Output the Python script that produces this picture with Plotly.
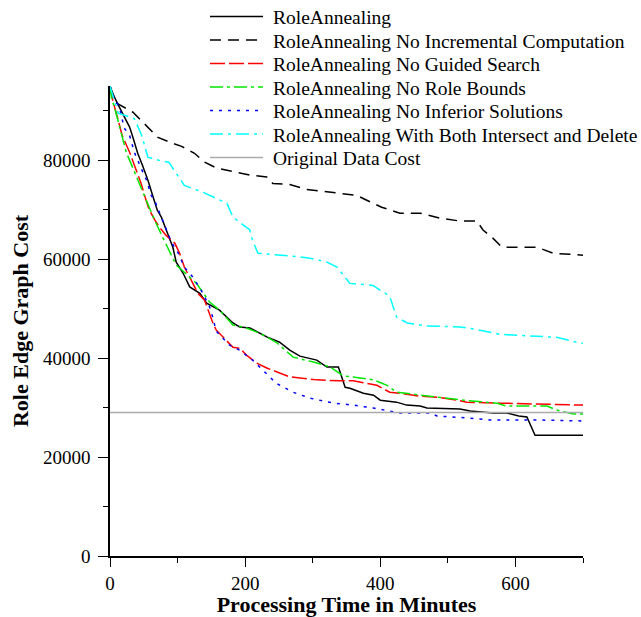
import plotly.graph_objects as go

# ---------------- data ----------------
ra_t = [0, 2, 11, 21, 29, 34, 41, 48, 56, 63, 70, 76, 88, 93, 98, 108, 118, 133, 143, 162, 182, 192, 207,
        232, 251, 266, 281, 306, 321, 338, 348, 355, 375, 390, 400, 424, 439, 459, 469, 518, 533, 567,
        587, 605, 617, 629, 700]
ra_v = [95000, 94100, 91500, 88700, 86700, 84600, 81400, 79000, 76000, 72900, 69900, 68500, 64400, 62400,
        59400, 57200, 54400, 53100, 51100, 49700, 47100, 46300, 46100, 44300, 43200, 41600, 40400, 39600,
        38200, 38200, 34100, 33900, 32900, 32500, 31500, 31100, 30500, 30300, 29900, 29700, 29300, 28900,
        28900, 28300, 28100, 24400, 24400]

noinc_t = [0, 9, 34, 41, 71, 93, 106, 125, 140, 158, 207, 232, 241, 266, 291, 340, 365, 380, 402, 429,
           459, 488, 518, 543, 552, 567, 580, 632, 656, 700]
noinc_v = [95000, 91600, 89700, 88700, 84600, 83400, 82800, 81400, 79600, 78400, 77000, 76600, 75300,
           75100, 74100, 73300, 72900, 71900, 70500, 69300, 69300, 68300, 67700, 67700, 65900, 64200,
           62400, 62400, 61200, 60800]

noguide_t = [0, 4, 11, 18, 29, 36, 46, 52, 58, 66, 73, 83, 96, 103, 110, 120, 130, 140, 145, 152, 157,
             172, 182, 192, 202, 217, 232, 251, 266, 281, 306, 340, 360, 375, 395, 414, 429, 459, 484,
             513, 528, 577, 627, 691, 700]
noguide_v = [95000, 92100, 88700, 85000, 81600, 79000, 75300, 72500, 70000, 68000, 66500, 64800, 63200,
             61200, 58400, 55800, 53100, 51700, 49700, 47200, 45700, 43600, 42200, 42000, 40600, 39000,
             38000, 37000, 36200, 36000, 35600, 35400, 35400, 35000, 34500, 33100, 32900, 32300, 32100,
             31500, 31100, 30900, 30700, 30500, 30500]

nobound_t = [0, 2, 9, 17, 24, 32, 41, 51, 66, 78, 88, 98, 108, 128, 147, 162, 182, 202, 222, 246, 271,
             301, 326, 345, 370, 390, 410, 424, 449, 488, 523, 572, 587, 647, 661, 686, 700]
nobound_v = [95000, 92700, 89500, 85400, 81600, 79000, 76000, 72900, 67900, 64400, 61500, 58800, 57600,
             55100, 51400, 49700, 46700, 46100, 45000, 43200, 40200, 39200, 38200, 36400, 36000, 35600,
             34500, 33100, 32700, 32100, 31500, 30900, 30300, 30300, 29500, 28700, 28700]

noinf_t = [0, 6, 14, 21, 29, 36, 46, 54, 61, 66, 73, 83, 91, 101, 110, 123, 135, 147, 152, 157, 177,
           192, 211, 226, 246, 271, 296, 331, 360, 390, 419, 429, 474, 484, 528, 562, 627, 700]
noinf_v = [95000, 92500, 90700, 86500, 85000, 81600, 78400, 76000, 72900, 71900, 69500, 65900, 63400,
           61200, 58400, 56300, 53700, 50500, 48300, 45500, 42600, 41600, 39600, 37600, 34900, 33100,
           31900, 30900, 30500, 29900, 29100, 28900, 28900, 28300, 27900, 27500, 27500, 27300]

both_t = [0, 12, 36, 47, 56, 72, 87, 110, 138, 162, 173, 182, 207, 211, 219, 271, 296, 321, 336, 355,
          389, 414, 424, 440, 469, 518, 538, 577, 627, 661, 691, 700]
both_v = [95000, 89500, 88400, 85000, 80600, 80000, 79600, 74900, 73500, 71900, 71300, 68500, 65900,
          63800, 61200, 60600, 60200, 59400, 58400, 55100, 54700, 52500, 48300, 47100, 46500, 46300,
          45900, 44800, 44400, 44200, 43200, 43000]

orig_t = [0, 700]
orig_v = [29000, 29000]

names = [
    "RoleAnnealing",
    "RoleAnnealing No Incremental Computation",
    "RoleAnnealing No Guided Search",
    "RoleAnnealing No Role Bounds",
    "RoleAnnealing No Inferior Solutions",
    "RoleAnnealing With Both Intersect and Delete",
    "Original Data Cost",
]

x_ticks = [0, 200, 400, 600]
y_ticks = [0, 20000, 40000, 60000, 80000]

# ---------------- figure ----------------
FONT = "Liberation Serif, Times New Roman, serif"
W, H = 641, 617
ML, MR, MT, MB = 110, 58, 86, 61
PW, PH = W - ML - MR, H - MT - MB

series = [
    (ra_t, ra_v, "black", "solid"),
    (noinc_t, noinc_v, "black", "11px,7px"),
    (noguide_t, noguide_v, "#ff0000", "15px,4px"),
    (nobound_t, nobound_v, "#00e600", "13px,4px,3px,4px"),
    (noinf_t, noinf_v, "#0000ff", "3px,6px"),
    (both_t, both_v, "#00ffff", "13px,5px,3px,5px"),
    (orig_t, orig_v, "#aaaaaa", "solid"),
]

fig = go.Figure()
for (t, v, col, dash), nm in zip(series, names):
    fig.add_trace(go.Scatter(x=t, y=v, mode="lines", name=nm, showlegend=False,
                             line=dict(color=col, width=1.5, dash=dash)))

# legend drawn in paper space (sample line + label text), positions in page px
def px2paper_x(px):
    return (px - ML) / PW

def px2paper_y(py):
    return (H - MB - py) / PH

shapes, annots = [], []
for i, ((t, v, col, dash), nm) in enumerate(zip(series, names)):
    yc = 16.5 + i * 23.5
    shapes.append(dict(type="line", xref="paper", yref="paper",
                       x0=px2paper_x(210), x1=px2paper_x(263),
                       y0=px2paper_y(yc), y1=px2paper_y(yc),
                       line=dict(color=col, width=1.5, dash=dash)))
    annots.append(dict(text=nm, xref="paper", yref="paper",
                       x=px2paper_x(271), y=px2paper_y(yc + 1),
                       xanchor="left", yanchor="middle", showarrow=False,
                       font=dict(family=FONT, size=19.5, color="black")))

fig.update_layout(
    width=W, height=H,
    margin=dict(l=ML, r=MR, t=MT, b=MB, autoexpand=False),
    paper_bgcolor="white", plot_bgcolor="white",
    font=dict(family=FONT, size=19, color="black"),
    showlegend=False,
    shapes=shapes, annotations=annots,
    xaxis=dict(range=[0, 700], showgrid=False, zeroline=False, automargin=False,
               showline=True, linecolor="black", linewidth=1.5,
               ticks="outside", ticklen=9, tickwidth=1.2, tickcolor="black",
               tickvals=x_ticks, ticktext=[str(v) for v in x_ticks],
               tickfont=dict(family=FONT, size=19),
               minor=dict(tickvals=[100, 300, 500, 700], ticks="outside", ticklen=5,
                          tickwidth=1.2, tickcolor="black"),
               title=dict(text="<b>Processing Time in Minutes</b>", standoff=3,
                          font=dict(family=FONT, size=22))),
    yaxis=dict(range=[0, 95000], showgrid=False, zeroline=False, automargin=False,
               showline=True, linecolor="black", linewidth=1.5,
               ticks="outside", ticklen=10, tickwidth=1.2, tickcolor="black",
               ticklabelstandoff=4,
               tickvals=y_ticks, ticktext=[str(v) for v in y_ticks],
               tickfont=dict(family=FONT, size=19),
               minor=dict(tickvals=[10000, 30000, 50000, 70000, 90000], ticks="outside",
                          ticklen=5, tickwidth=1.2, tickcolor="black"),
               title=dict(text="<b>Role Edge Graph Cost</b>", standoff=8,
                          font=dict(family=FONT, size=22))),
)

# remove the default page margin so the figure fills the window exactly
fig.write_html("out.html",
               config={"displayModeBar": False},
               post_script="document.body.style.margin='0';document.body.style.overflow='hidden';")
